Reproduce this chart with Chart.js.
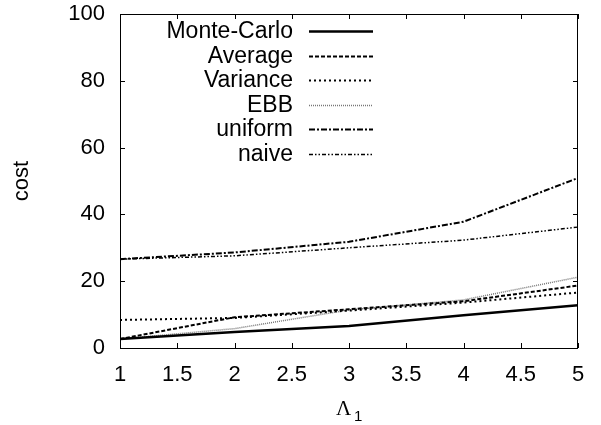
<!DOCTYPE html>
<html>
<head>
<meta charset="utf-8">
<script src="https://cdn.jsdelivr.net/npm/chart.js@4/dist/chart.umd.min.js"></script>
<style>
  html, body { margin: 0; padding: 0; background: #fff; }
  #wrap { width: 601px; height: 425px; }
</style>
</head>
<body>
<div id="wrap"><canvas id="costChart"></canvas></div>
<script>
// values
const lambdas = [1, 2, 3, 4, 5];
const monteCarlo = [2.7, 4.8, 6.6, 9.8, 12.8];
const average = [2.7, 9.2, 11.6, 14.0, 18.7];
const variance = [8.4, 9.0, 11.2, 13.6, 16.6];
const ebb = [2.7, 5.8, 11.4, 14.4, 21.2];
const uniform = [26.6, 28.6, 31.8, 37.8, 50.9];
const naive = [26.6, 27.6, 30.0, 32.3, 36.2];
const yTicks = [0, 20, 40, 60, 80, 100];

const FONT = '"Liberation Sans", Arial, Helvetica, sans-serif';

function series(label, values, style) {
    return Object.assign({
        label: label,
        data: values.map((v, i) => ({ x: lambdas[i], y: v })),
        borderColor: '#000',
        borderWidth: 1.5,
        pointRadius: 0,
        tension: 0,
        fill: false
    }, style);
}

// gnuplot style frame, inward ticks, key and x label
const framePlugin = {
    id: 'frame',
    afterDatasetsDraw(chart) {
        const c = chart.ctx;
        const a = chart.chartArea;
        const xs = chart.scales.x;
        const ys = chart.scales.y;
        c.save();
        c.strokeStyle = '#000';
        c.lineWidth = 1;
        c.setLineDash([]);
        c.strokeRect(a.left + 0.5, a.top + 0.5, a.right - a.left - 1, a.bottom - a.top);
        c.beginPath();
        xs.ticks.forEach(t => {
            const px = Math.round(xs.getPixelForValue(t.value)) + 0.5;
            c.moveTo(px, a.bottom); c.lineTo(px, a.bottom - 5);
            c.moveTo(px, a.top); c.lineTo(px, a.top + 5);
        });
        ys.ticks.forEach(t => {
            const py = Math.round(ys.getPixelForValue(t.value)) + 0.5;
            c.moveTo(a.left, py); c.lineTo(a.left + 5, py);
            c.moveTo(a.right, py); c.lineTo(a.right - 5, py);
        });
        c.stroke();

        // key
        c.font = '23px ' + FONT;
        c.textAlign = 'right';
        c.textBaseline = 'middle';
        c.fillStyle = '#000';
        chart.data.datasets.forEach((ds, i) => {
            const y = Math.round(31 + i * 24.5) + 0.5;
            c.fillText(ds.label, 293, y);
            c.beginPath();
            c.strokeStyle = ds.borderColor;
            c.lineWidth = ds.borderWidth;
            c.setLineDash(ds.borderDash || []);
            c.moveTo(309, y); c.lineTo(373, y);
            c.stroke();
        });

        // x axis label, Lambda with subscript 1
        c.setLineDash([]);
        c.fillStyle = '#000';
        c.textAlign = 'left';
        c.textBaseline = 'alphabetic';
        c.font = '21px "Liberation Serif", "Times New Roman", serif';
        c.fillText('Λ', 336, 415);
        c.font = '15px ' + FONT;
        c.fillText('1', 354, 421);
        c.restore();
    }
};

new Chart(document.getElementById('costChart'), {
    type: 'line',
    data: {
        datasets: [
            series('Monte-Carlo', monteCarlo, { borderWidth: 2.5 }),
            series('Average', average, { borderDash: [4, 2], borderWidth: 2 }),
            series('Variance', variance, { borderDash: [2, 3], borderWidth: 2 }),
            series('EBB', ebb, { borderDash: [1, 1], borderColor: '#777', borderWidth: 1.5 }),
            series('uniform', uniform, { borderDash: [6, 2, 2, 2], borderWidth: 2 }),
            series('naive', naive, { borderDash: [4, 2, 1.5, 2, 1.5, 2], borderWidth: 1.5 })
        ]
    },
    options: {
        responsive: true,
        maintainAspectRatio: false,
        animation: false,
        layout: { padding: { top: 14, right: 23, left: 0, bottom: 0 } },
        plugins: {
            legend: { display: false },
            tooltip: { enabled: false }
        },
        scales: {
            x: {
                type: 'linear',
                min: 1,
                max: 5,
                ticks: {
                    stepSize: 0.5,
                    color: '#000',
                    font: { family: FONT, size: 22 },
                    padding: 14,
                    maxRotation: 0,
                    callback: v => String(v)
                },
                grid: { display: false, drawTicks: false },
                border: { display: false },
                afterFit: s => {
                    s.height = 77;
                    s.paddingLeft = 0;
                    s.paddingRight = 0;
                }
            },
            y: {
                type: 'linear',
                min: 0,
                max: 100,
                afterBuildTicks: s => { s.ticks = yTicks.map(v => ({ value: v })); },
                ticks: {
                    color: '#000',
                    font: { family: FONT, size: 22 },
                    padding: 15
                },
                grid: { display: false, drawTicks: false },
                border: { display: false },
                title: {
                    display: true,
                    text: 'cost',
                    color: '#000',
                    font: { family: FONT, size: 22 },
                    padding: { top: 9, bottom: 0 }
                },
                afterFit: s => {
                    s.width = 120;
                    s.paddingTop = 0;
                    s.paddingBottom = 0;
                }
            }
        }
    },
    plugins: [framePlugin]
});
</script>
</body>
</html>
